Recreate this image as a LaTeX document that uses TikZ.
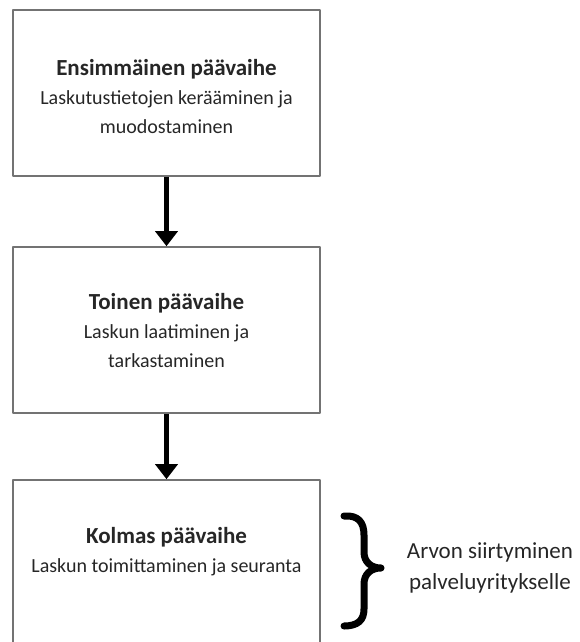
\documentclass[tikz,border=0pt]{standalone}
\usepackage{fontspec}
\setmainfont{Carlito}
\usetikzlibrary{arrows.meta,positioning}
\tikzset{
  every picture/.style={line join=round, >=Stealth},
  stagebox/.style={draw=black!55, line width=1.6pt, minimum width=307pt, minimum height=166pt, inner sep=0pt},
  stagetext/.style={align=center, inner sep=0pt, text=black!85, font=\fontsize{20}{29}\selectfont},
  sidetext/.style={align=center, inner sep=0pt, text=black!85, font=\fontsize{23}{31}\selectfont},
  flow/.style={line width=5pt, -{Triangle[width=22pt,length=15pt]}},
  brace/.style={line width=7pt, line cap=round},
}
\newcommand{\phasetitle}[1]{{\fontsize{23}{29}\selectfont\bfseries #1}}

\begin{document}
\begin{tikzpicture}[x=1pt,y=-1pt]
\useasboundingbox (0,0) rectangle (579,642);
\clip (0,0) rectangle (579,642);
% the three main phases
\node[stagebox] (s1) at (166.5,93) {};
\node[stagebox] (s2) at (166.5,330) {};
\node[stagebox] (s3) at (166.5,563) {};
\node[stagetext, below=50pt of s1.north] (t1) {\phasetitle{Ensimmäinen päävaihe}\\Laskutustietojen kerääminen ja\\muodostaminen};
\node[stagetext, below=47pt of s2.north] (t2) {\phasetitle{Toinen päävaihe}\\Laskun laatiminen ja\\tarkastaminen};
\node[stagetext, below=48pt of s3.north] (t3) {\phasetitle{Kolmas päävaihe}\\Laskun toimittaminen ja seuranta};
\draw[flow] (s1) -- (s2);
\draw[flow] (s2) -- (s3);
% brace and note
\draw[brace] (344,516) .. controls (358,515) and (364,522) .. (364,535) -- (364,552)
  .. controls (364,562) and (371,568) .. (381,568)
  .. controls (371,568) and (364,574) .. (364,584) -- (364,609)
  .. controls (364,620) and (358,626) .. (344,626);
\node[sidetext] (value) at (490,568) {Arvon siirtyminen\\palveluyritykselle};
\end{tikzpicture}
\end{document}
